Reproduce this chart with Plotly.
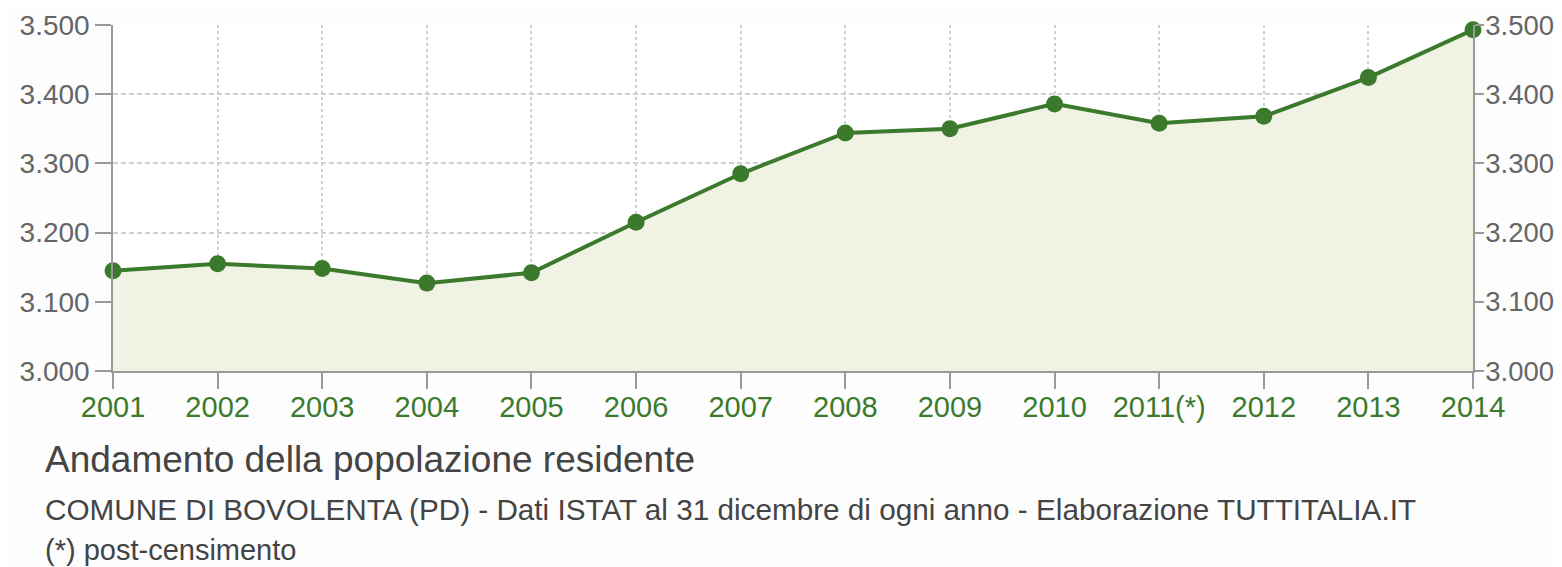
import plotly.graph_objects as go

years = ["2001", "2002", "2003", "2004", "2005", "2006", "2007",
         "2008", "2009", "2010", "2011(*)", "2012", "2013", "2014"]
population = [3145, 3155, 3148, 3127, 3142, 3215, 3285,
              3344, 3350, 3386, 3358, 3368, 3424, 3493]
y_ticks = [3000, 3100, 3200, 3300, 3400, 3500]
y_range = [3000, 3500]

title_text = "Andamento della popolazione residente"
subtitle_text = ("COMUNE DI BOVOLENTA (PD) - Dati ISTAT al 31 dicembre di ogni anno"
                 " - Elaborazione TUTTITALIA.IT")
note_text = "(*) post-censimento"

GREEN = "#3b7a2c"
FILL = "#f0f2e4"
GRID = "#d0d0d0"
AXIS = "#9a9a9a"
FONT = "Liberation Sans, Arial, sans-serif"

fig = go.Figure()
fig.add_trace(go.Scatter(
    x=years, y=population, mode="lines+markers",
    line=dict(color=GREEN, width=4),
    marker=dict(color=GREEN, size=17),
    fill="tozeroy", fillcolor=FILL,
    hoverinfo="x+y", showlegend=False, cliponaxis=False,
))
fig.add_trace(go.Scatter(
    x=years, y=population, mode="lines", yaxis="y2",
    line=dict(color="rgba(0,0,0,0)", width=0),
    hoverinfo="skip", showlegend=False,
))

fig.update_layout(
    width=1554, height=559,
    margin=dict(l=105, r=89, t=17, b=196, autoexpand=False),
    paper_bgcolor="#fdfdfd", plot_bgcolor="#ffffff",
    separators=",.",
    font=dict(family=FONT, color="#666666"),
    xaxis=dict(
        type="category", range=[0, 13], automargin=False,
        showgrid=True, gridcolor=GRID, griddash="3px,3px", gridwidth=1.5,
        showline=True, linecolor=AXIS, linewidth=1.5,
        ticks="outside", ticklen=16, tickcolor=AXIS, tickwidth=1.5,
        tickfont=dict(size=29, color=GREEN, family=FONT),
        ticklabelstandoff=-7,
        zeroline=False,
    ),
    yaxis=dict(
        range=y_range, tickvals=y_ticks, tickformat=",d", automargin=False,
        showgrid=True, gridcolor=GRID, griddash="5px,3px", gridwidth=1.5,
        showline=True, linecolor=AXIS, linewidth=1.5,
        ticks="outside", ticklen=16, tickcolor=AXIS, tickwidth=1.5,
        tickfont=dict(size=28, color="#666666", family=FONT),
        zeroline=False,
    ),
    yaxis2=dict(
        range=y_range, tickvals=y_ticks, tickformat=",d", automargin=False,
        overlaying="y", side="right", showgrid=False,
        showline=True, linecolor=AXIS, linewidth=1.5,
        ticks="outside", ticklen=9, tickcolor=AXIS, tickwidth=1.5,
        tickfont=dict(size=27.5, color="#666666", family=FONT),
        ticklabelstandoff=-4,
        zeroline=False,
    ),
)

fig.add_annotation(text=title_text, xref="paper", yref="paper",
                   x=-0.0515, y=-0.257, xanchor="left", yanchor="middle",
                   showarrow=False, font=dict(size=37, color="#444444", family=FONT))
fig.add_annotation(text=subtitle_text, xref="paper", yref="paper",
                   x=-0.0515, y=-0.399, xanchor="left", yanchor="middle",
                   showarrow=False, font=dict(size=29.7, color="#444444", family=FONT))
fig.add_annotation(text=note_text, xref="paper", yref="paper",
                   x=-0.0515, y=-0.517, xanchor="left", yanchor="middle",
                   showarrow=False, font=dict(size=29, color="#444444", family=FONT))

fig.write_html("out.html")
